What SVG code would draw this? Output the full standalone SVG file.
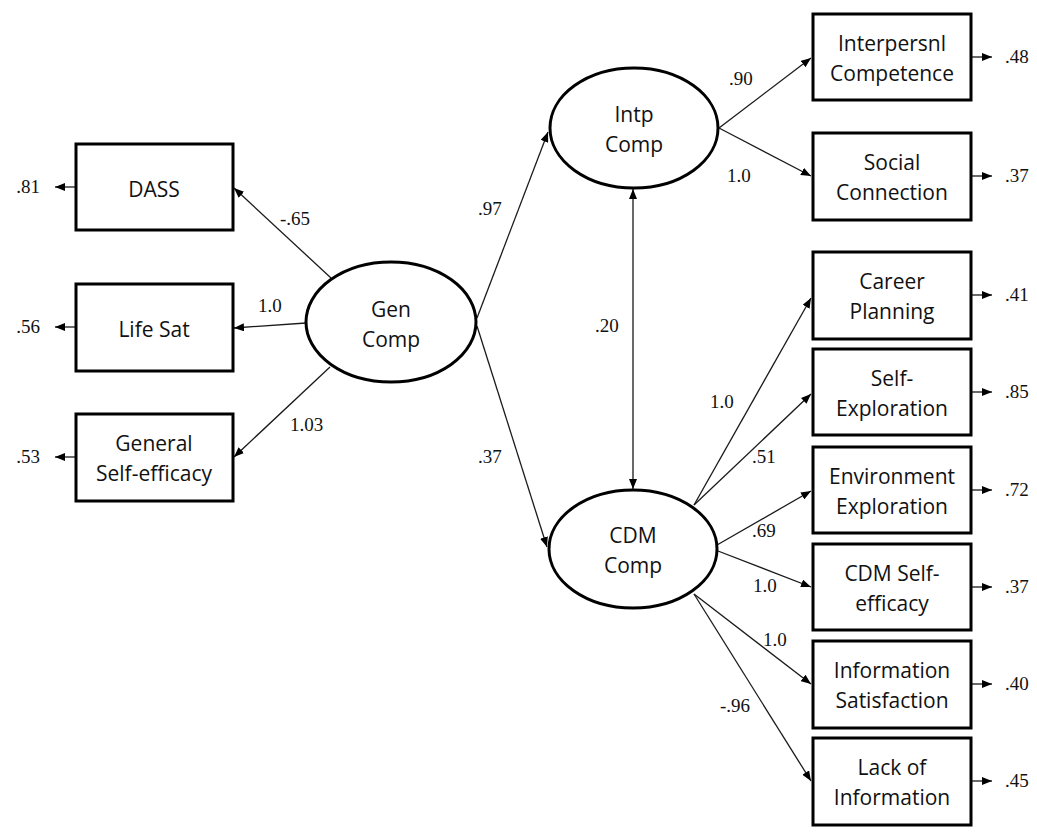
<svg xmlns="http://www.w3.org/2000/svg" width="1037" height="834" viewBox="0 0 1037 834">
  <style>
    .box { fill: #fff; stroke: #000; stroke-width: 3; }
    .lat { fill: #fff; stroke: #000; stroke-width: 3; }
    .lbl { font-family: "Open Sans", "Noto Sans", sans-serif; font-size: 21px; fill: #111; text-anchor: middle; }
    .num { font-family: "Liberation Serif", "Times New Roman", serif; font-size: 19px; fill: #111; }
    .end { text-anchor: end; }
    .edge { stroke: #1a1a1a; stroke-width: 1.3; fill: none; marker-end: url(#ah); }
  </style>
  <defs>
    <marker id="ah" viewBox="0 0 10 8" refX="10" refY="4" markerWidth="10" markerHeight="8" markerUnits="userSpaceOnUse" orient="auto-start-reverse">
      <path d="M0,0 L10,4 L0,8 z" fill="#000"/>
    </marker>
  </defs>
  <rect width="1037" height="834" fill="#fff"/>

  <!-- connectors -->
  <g id="connectors">
    <line class="edge" x1="331" y1="278" x2="234" y2="188"/>
    <line class="edge" x1="306" y1="323" x2="234" y2="328"/>
    <line class="edge" x1="330" y1="367" x2="234" y2="457"/>
    <line class="edge" x1="477" y1="318" x2="548" y2="132"/>
    <line class="edge" x1="477" y1="326" x2="547" y2="547"/>
    <line class="edge" x1="633" y1="189" x2="633" y2="489" marker-start="url(#ah)"/>
    <line class="edge" x1="719" y1="128" x2="811" y2="58"/>
    <line class="edge" x1="719" y1="128" x2="811" y2="176"/>
    <line class="edge" x1="694" y1="505" x2="811" y2="298"/>
    <line class="edge" x1="694" y1="505" x2="811" y2="394"/>
    <line class="edge" x1="717" y1="545" x2="811" y2="491"/>
    <line class="edge" x1="718" y1="551" x2="811" y2="587"/>
    <line class="edge" x1="694" y1="594" x2="811" y2="684"/>
    <line class="edge" x1="694" y1="594" x2="811" y2="781"/>
    <!-- error terms -->
    <line class="edge" x1="75" y1="187" x2="55" y2="187"/>
    <line class="edge" x1="75" y1="327" x2="55" y2="327"/>
    <line class="edge" x1="75" y1="457" x2="55" y2="457"/>
    <line class="edge" x1="972" y1="57" x2="992" y2="57"/>
    <line class="edge" x1="972" y1="176" x2="992" y2="176"/>
    <line class="edge" x1="972" y1="295" x2="992" y2="295"/>
    <line class="edge" x1="972" y1="392" x2="992" y2="392"/>
    <line class="edge" x1="972" y1="490" x2="992" y2="490"/>
    <line class="edge" x1="972" y1="587" x2="992" y2="587"/>
    <line class="edge" x1="972" y1="684" x2="992" y2="684"/>
    <line class="edge" x1="972" y1="781" x2="992" y2="781"/>
    <!-- path coefficients -->
    <text class="num" x="280" y="225">-.65</text>
    <text class="num" x="258" y="312">1.0</text>
    <text class="num" x="290" y="431">1.03</text>
    <text class="num" x="478" y="215">.97</text>
    <text class="num" x="478" y="463">.37</text>
    <text class="num" x="595" y="332">.20</text>
    <text class="num" x="729" y="85">.90</text>
    <text class="num" x="727" y="182">1.0</text>
    <text class="num" x="710" y="408">1.0</text>
    <text class="num" x="752" y="463">.51</text>
    <text class="num" x="752" y="537">.69</text>
    <text class="num" x="753" y="592">1.0</text>
    <text class="num" x="763" y="646">1.0</text>
    <text class="num" x="720" y="712">-.96</text>
    <!-- residuals -->
    <text class="num end" x="40" y="193">.81</text>
    <text class="num end" x="40" y="333">.56</text>
    <text class="num end" x="40" y="463">.53</text>
    <text class="num" x="1005" y="63">.48</text>
    <text class="num" x="1005" y="182">.37</text>
    <text class="num" x="1005" y="301">.41</text>
    <text class="num" x="1005" y="398">.85</text>
    <text class="num" x="1005" y="496">.72</text>
    <text class="num" x="1005" y="593">.37</text>
    <text class="num" x="1005" y="690">.40</text>
    <text class="num" x="1005" y="787">.45</text>
  </g>

  <!-- latent factors -->
  <g id="gen-comp">
    <ellipse class="lat" cx="391" cy="322" rx="85" ry="60"/>
    <text class="lbl" x="391" y="317">Gen</text>
    <text class="lbl" x="391" y="347">Comp</text>
  </g>
  <g id="intp-comp">
    <ellipse class="lat" cx="634" cy="128" rx="84" ry="60"/>
    <text class="lbl" x="634" y="122">Intp</text>
    <text class="lbl" x="634" y="152">Comp</text>
  </g>
  <g id="cdm-comp">
    <ellipse class="lat" cx="633" cy="549" rx="84" ry="59"/>
    <text class="lbl" x="633" y="543">CDM</text>
    <text class="lbl" x="633" y="573">Comp</text>
  </g>

  <!-- observed indicators, left -->
  <g id="dass">
    <rect class="box" x="76" y="144" width="157" height="86"/>
    <text class="lbl" x="154" y="197">DASS</text>
  </g>
  <g id="life-sat">
    <rect class="box" x="76" y="284" width="157" height="87"/>
    <text class="lbl" x="154" y="337">Life Sat</text>
  </g>
  <g id="general-self-efficacy">
    <rect class="box" x="76" y="414" width="157" height="87"/>
    <text class="lbl" x="154" y="451">General</text>
    <text class="lbl" x="154" y="481">Self-efficacy</text>
  </g>

  <!-- observed indicators, right -->
  <g id="interpersonal-competence">
    <rect class="box" x="813" y="14" width="158" height="86"/>
    <text class="lbl" x="892" y="51">Interpersnl</text>
    <text class="lbl" x="892" y="81">Competence</text>
  </g>
  <g id="social-connection">
    <rect class="box" x="813" y="133" width="158" height="87"/>
    <text class="lbl" x="892" y="170">Social</text>
    <text class="lbl" x="892" y="200">Connection</text>
  </g>
  <g id="career-planning">
    <rect class="box" x="813" y="252" width="158" height="87"/>
    <text class="lbl" x="892" y="289">Career</text>
    <text class="lbl" x="892" y="319">Planning</text>
  </g>
  <g id="self-exploration">
    <rect class="box" x="813" y="349" width="158" height="86"/>
    <text class="lbl" x="892" y="386">Self-</text>
    <text class="lbl" x="892" y="416">Exploration</text>
  </g>
  <g id="environment-exploration">
    <rect class="box" x="813" y="447" width="158" height="86"/>
    <text class="lbl" x="892" y="484">Environment</text>
    <text class="lbl" x="892" y="514">Exploration</text>
  </g>
  <g id="cdm-self-efficacy">
    <rect class="box" x="813" y="544" width="158" height="86"/>
    <text class="lbl" x="892" y="581">CDM Self-</text>
    <text class="lbl" x="892" y="611">efficacy</text>
  </g>
  <g id="information-satisfaction">
    <rect class="box" x="813" y="641" width="158" height="87"/>
    <text class="lbl" x="892" y="678">Information</text>
    <text class="lbl" x="892" y="708">Satisfaction</text>
  </g>
  <g id="lack-of-information">
    <rect class="box" x="813" y="738" width="158" height="87"/>
    <text class="lbl" x="892" y="775">Lack of</text>
    <text class="lbl" x="892" y="805">Information</text>
  </g>
</svg>
